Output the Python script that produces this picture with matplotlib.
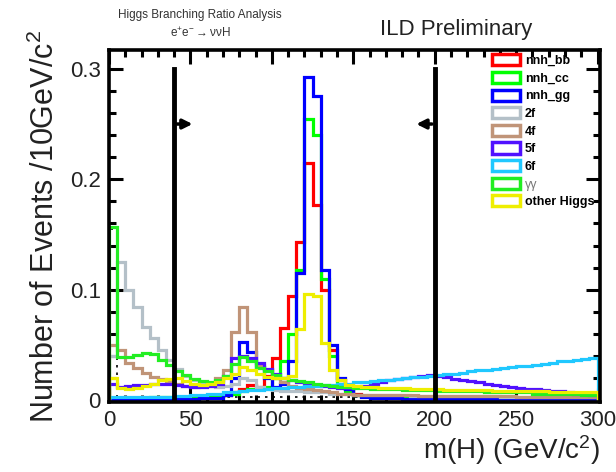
import numpy as np
import matplotlib
matplotlib.use("Agg")
import matplotlib.pyplot as plt
from matplotlib.patches import Rectangle
from matplotlib.ticker import MultipleLocator

plt.rcParams['font.family'] = ['Liberation Sans', 'DejaVu Sans']
plt.rcParams['mathtext.default'] = 'regular'

# m(H) histograms, 5 GeV bins from 0 to 300
edges = np.arange(0, 305, 5)

nnh_bb = [0.001, 0.001, 0.001, 0.001, 0.001, 0.001, 0.001, 0.001, 0.001, 0.002,
          0.002, 0.003, 0.003, 0.004, 0.005, 0.007, 0.010, 0.014, 0.012, 0.022,
          0.038, 0.065, 0.094, 0.143, 0.215, 0.177, 0.100, 0.045, 0.018, 0.010,
          0.006, 0.004, 0.003, 0.002, 0.002, 0.002, 0.002, 0.002, 0.002, 0.002,
          0.001, 0.001, 0.001, 0.001, 0.001, 0.001, 0.001, 0.001, 0.001, 0.001,
          0.001, 0.001, 0.001, 0.001, 0.001, 0.001, 0.001, 0.001, 0.001, 0.001]
nnh_cc = [0.002, 0.002, 0.002, 0.002, 0.002, 0.003, 0.003, 0.003, 0.003, 0.003,
          0.003, 0.003, 0.004, 0.004, 0.005, 0.006, 0.008, 0.010, 0.010, 0.012,
          0.020, 0.035, 0.060, 0.118, 0.255, 0.240, 0.110, 0.040, 0.015, 0.008,
          0.005, 0.004, 0.004, 0.003, 0.003, 0.003, 0.003, 0.003, 0.003, 0.003,
          0.002, 0.002, 0.002, 0.002, 0.002, 0.002, 0.002, 0.002, 0.002, 0.002,
          0.002, 0.002, 0.002, 0.002, 0.002, 0.002, 0.002, 0.002, 0.002, 0.002]
nnh_gg = [0.001, 0.001, 0.001, 0.001, 0.001, 0.001, 0.001, 0.001, 0.001, 0.001,
          0.001, 0.002, 0.002, 0.002, 0.005, 0.020, 0.053, 0.044, 0.030, 0.020,
          0.012, 0.015, 0.035, 0.115, 0.293, 0.275, 0.118, 0.050, 0.020, 0.010,
          0.005, 0.003, 0.002, 0.002, 0.002, 0.002, 0.001, 0.001, 0.001, 0.001,
          0.001, 0.001, 0.001, 0.001, 0.001, 0.001, 0.001, 0.001, 0.001, 0.001,
          0.001, 0.001, 0.001, 0.001, 0.001, 0.001, 0.001, 0.001, 0.001, 0.001]
bg_2f = [0.040, 0.125, 0.100, 0.084, 0.066, 0.056, 0.045, 0.036, 0.028, 0.022,
         0.018, 0.015, 0.013, 0.012, 0.013, 0.015, 0.020, 0.018, 0.012, 0.010,
         0.009, 0.008, 0.008, 0.008, 0.007, 0.007, 0.007, 0.006, 0.006, 0.006,
         0.005, 0.005, 0.005, 0.005, 0.005, 0.005, 0.005, 0.004, 0.004, 0.004,
         0.004, 0.004, 0.004, 0.004, 0.004, 0.004, 0.004, 0.004, 0.003, 0.003,
         0.003, 0.003, 0.003, 0.003, 0.003, 0.003, 0.003, 0.003, 0.003, 0.003]
bg_4f = [0.050, 0.045, 0.034, 0.029, 0.025, 0.021, 0.019, 0.017, 0.015, 0.013,
         0.012, 0.013, 0.015, 0.020, 0.027, 0.062, 0.084, 0.062, 0.032, 0.027,
         0.020, 0.016, 0.013, 0.011, 0.010, 0.009, 0.008, 0.007, 0.006, 0.006,
         0.005, 0.005, 0.005, 0.005, 0.005, 0.005, 0.005, 0.005, 0.004, 0.004,
         0.004, 0.004, 0.004, 0.004, 0.004, 0.004, 0.004, 0.004, 0.004, 0.004,
         0.003, 0.003, 0.003, 0.003, 0.003, 0.003, 0.003, 0.003, 0.003, 0.003]
bg_5f = [0.015, 0.012, 0.013, 0.014, 0.014, 0.015, 0.015, 0.015, 0.014, 0.013,
         0.012, 0.012, 0.013, 0.015, 0.022, 0.038, 0.040, 0.038, 0.034, 0.028,
         0.024, 0.020, 0.018, 0.016, 0.015, 0.014, 0.013, 0.012, 0.011, 0.011,
         0.012, 0.013, 0.015, 0.016, 0.018, 0.019, 0.020, 0.021, 0.022, 0.023,
         0.022, 0.021, 0.019, 0.018, 0.017, 0.016, 0.015, 0.014, 0.013, 0.012,
         0.011, 0.010, 0.010, 0.009, 0.008, 0.008, 0.007, 0.006, 0.006, 0.005]
bg_6f = [0.003, 0.003, 0.003, 0.003, 0.003, 0.003, 0.003, 0.003, 0.004, 0.004,
         0.005, 0.005, 0.006, 0.006, 0.007, 0.007, 0.008, 0.009, 0.009, 0.010,
         0.011, 0.011, 0.012, 0.012, 0.013, 0.013, 0.014, 0.014, 0.015, 0.015,
         0.016, 0.016, 0.017, 0.018, 0.018, 0.019, 0.020, 0.021, 0.021, 0.022,
         0.023, 0.024, 0.024, 0.025, 0.026, 0.027, 0.027, 0.028, 0.029, 0.030,
         0.031, 0.031, 0.032, 0.033, 0.034, 0.035, 0.035, 0.036, 0.037, 0.038]
bg_aa = [0.157, 0.039, 0.039, 0.041, 0.043, 0.042, 0.036, 0.032, 0.026, 0.023,
         0.019, 0.017, 0.016, 0.018, 0.022, 0.033, 0.039, 0.035, 0.029, 0.026,
         0.023, 0.020, 0.018, 0.017, 0.016, 0.015, 0.014, 0.013, 0.012, 0.012,
         0.011, 0.011, 0.010, 0.010, 0.010, 0.010, 0.009, 0.009, 0.009, 0.009,
         0.008, 0.008, 0.008, 0.008, 0.008, 0.008, 0.007, 0.007, 0.007, 0.007,
         0.007, 0.007, 0.006, 0.006, 0.006, 0.006, 0.006, 0.006, 0.005, 0.005]
other_h = [0.020, 0.011, 0.010, 0.011, 0.013, 0.015, 0.018, 0.019, 0.020, 0.017,
           0.015, 0.014, 0.015, 0.016, 0.020, 0.024, 0.030, 0.027, 0.024, 0.021,
           0.020, 0.020, 0.022, 0.064, 0.096, 0.094, 0.052, 0.027, 0.018, 0.014,
           0.013, 0.012, 0.012, 0.011, 0.011, 0.011, 0.011, 0.010, 0.010, 0.010,
           0.010, 0.009, 0.009, 0.009, 0.009, 0.009, 0.009, 0.008, 0.008, 0.008,
           0.008, 0.008, 0.008, 0.008, 0.007, 0.007, 0.007, 0.007, 0.007, 0.007]
dashed_bg = [0.155] + [0.003] * 59

names = ["nnh_bb", "nnh_cc", "nnh_gg", "2f", "4f", "5f", "6f", "γγ", "other Higgs"]
colors = ["#ff0000", "#00ff00", "#0000ff", "#b4c0c8", "#c09478",
          "#5010ff", "#20c8ff", "#22ee22", "#eeee00"]
series = [nnh_bb, nnh_cc, nnh_gg, bg_2f, bg_4f, bg_5f, bg_6f, bg_aa, other_h]
draw_order = [6, 3, 4, 5, 0, 1, 7, 8, 2]

cut_lo, cut_hi = 40, 200
cut_top = 0.3
arrow_y = 0.25

fig = plt.figure(figsize=(6.16, 4.72), dpi=100)
ax = fig.add_axes([0.177, 0.148, 0.797, 0.746])

ax.stairs(dashed_bg, edges, baseline=0, color='black', lw=1.2,
          linestyle=(0, (1.5, 3)), zorder=1)
for k in draw_order:
    ax.stairs(series[k], edges, baseline=0, color=colors[k], lw=2.3, zorder=2 + k * 0.01)

# selection cuts
ax.plot([cut_lo, cut_lo], [0, cut_top], color='black', lw=3.5, zorder=5)
ax.plot([cut_hi, cut_hi], [0, cut_top], color='black', lw=3.5, zorder=5)
ax.annotate('', xy=(cut_lo + 13, arrow_y), xytext=(cut_lo, arrow_y),
            arrowprops=dict(arrowstyle='-|>', lw=2.5, color='black', mutation_scale=14))
ax.annotate('', xy=(cut_hi - 13, arrow_y), xytext=(cut_hi, arrow_y),
            arrowprops=dict(arrowstyle='-|>', lw=2.5, color='black', mutation_scale=14))

ax.set_xlim(0, 301.5)
ax.set_ylim(-0.0018, 0.317)
ax.xaxis.set_major_locator(MultipleLocator(50))
ax.xaxis.set_minor_locator(MultipleLocator(10))
ax.yaxis.set_major_locator(MultipleLocator(0.1))
ax.yaxis.set_minor_locator(MultipleLocator(0.02))
ax.set_yticks([0, 0.1, 0.2, 0.3])
ax.set_yticklabels(["0", "0.1", "0.2", "0.3"])
ax.tick_params(which='both', direction='in', top=True, right=True, width=2.2,
               labelsize=16, colors='black', labelcolor='#222222')
ax.tick_params(which='major', length=10, pad=6)
ax.tick_params(which='minor', length=5)
for s in ax.spines.values():
    s.set_linewidth(2.6)

ax.set_ylabel("Number of Events /10GeV/c$^{2}$", fontsize=22, color='#222222', labelpad=6)
ax.set_xlabel("m(H) (GeV/c$^{2}$)", fontsize=20, color='#222222', loc='right', labelpad=1)

fig.text(0.325, 0.968, "Higgs Branching Ratio Analysis", fontsize=8.5, ha='center',
         va='center', color='#333333')
fig.text(0.325, 0.93, r"e$^{+}$e$^{-}$$\rightarrow$ννH", fontsize=8.5, ha='center',
         va='center', color='#333333')
fig.text(0.74, 0.937, "ILD Preliminary", fontsize=16, ha='center', va='center',
         color='#222222')

handles = [Rectangle((0, 0), 1, 1, facecolor='white', edgecolor=c, lw=2.5) for c in colors]
leg = ax.legend(handles, names, loc='upper left', bbox_to_anchor=(0.799, 0.885),
                bbox_transform=fig.transFigure, frameon=False, borderpad=0,
                borderaxespad=0, handlelength=2.2, handleheight=1.0,
                handletextpad=0.4, labelspacing=0.38,
                prop={'size': 9, 'weight': 'bold'})
for t in leg.get_texts():
    if t.get_text() == "γγ":
        t.set_fontweight('normal')
        t.set_color('#777777')

fig.savefig("out.png", dpi=100)
